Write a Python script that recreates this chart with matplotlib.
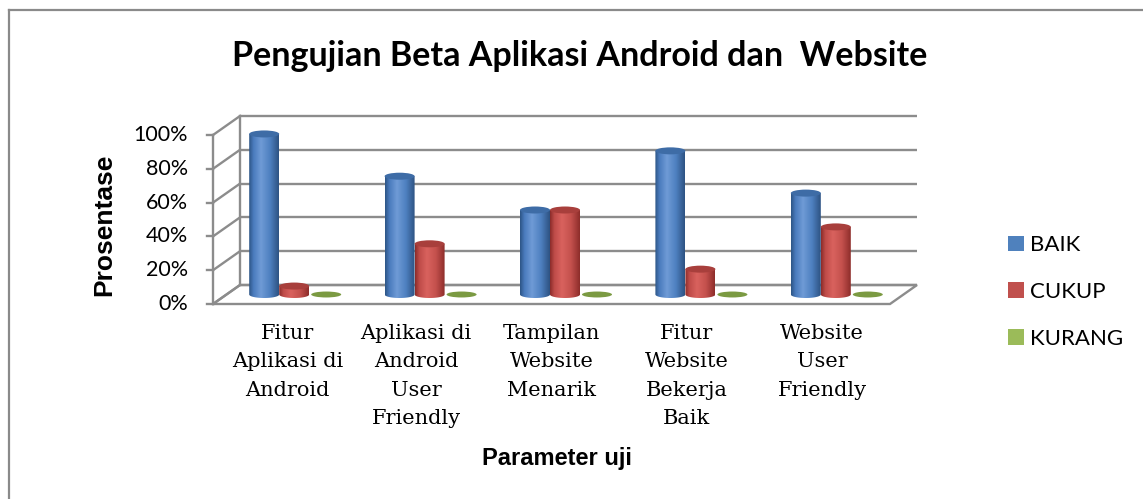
import numpy as np
import matplotlib
matplotlib.use("Agg")
import matplotlib.pyplot as plt
from matplotlib.patches import Polygon, Ellipse, Patch
from matplotlib.lines import Line2D
from matplotlib.colors import LinearSegmentedColormap

# ---------------- data ----------------
categories = ["Fitur\nAplikasi di\nAndroid",
              "Aplikasi di\nAndroid\nUser\nFriendly",
              "Tampilan\nWebsite\nMenarik",
              "Fitur\nWebsite\nBekerja\nBaik",
              "Website\nUser\nFriendly"]
series_names = ["BAIK", "CUKUP", "KURANG"]
baik = [95, 70, 50, 85, 60]
cukup = [5, 30, 50, 15, 40]
kurang = [0, 0, 0, 0, 0]
yticks = [0, 20, 40, 60, 80, 100]
ytick_labels = ["0%", "20%", "40%", "60%", "80%", "100%"]
title = "Pengujian Beta Aplikasi Android dan  Website"
xlabel = "Parameter uji"
ylabel = "Prosentase"

# ---------------- layout ----------------
W, H = 1143, 499
fig = plt.figure(figsize=(W / 100, H / 100), dpi=100)
fig.patch.set_facecolor("white")

X0px, X1px = 213, 890      # front floor edge for x = -0.5 .. 4.5
Y0px, Y100px = 304, 135    # front axis 0% .. 100%
n = len(categories)
pxx = (X1px - X0px) / n
pxy = (Y0px - Y100px) / 100
xlim = (-0.75, n - 0.25)
ylim = (-14, 116)
left = (X0px - (-0.5 - xlim[0]) * pxx) / W
right = (X1px + (xlim[1] - (n - 0.5)) * pxx) / W
bottom = (H - (Y0px + (0 - ylim[0]) * pxy)) / H
top = (H - (Y0px - ylim[1] * pxy)) / H
ax = fig.add_axes([left, bottom, right - left, top - bottom])
ax.axis("off")

dx = 27 / pxx
dy = 19 / pxy
gcol = "#8c8c8c"
glw = 1.7
xa, xb = -0.5, n - 0.5

# floor
ax.add_patch(Polygon([(xa, 0), (xb, 0), (xb + dx, dy), (xa + dx, dy)],
                     closed=True, facecolor="white", edgecolor=gcol, lw=glw, zorder=1))
# back wall gridlines + left wall diagonals + ticks
for v in yticks:
    ax.plot([xa + dx, xb + dx], [v + dy, v + dy], color=gcol, lw=glw, zorder=1,
            solid_capstyle="butt")
    ax.plot([xa, xa + dx], [v, v + dy], color=gcol, lw=glw, zorder=1)
    ax.plot([xa - 6 / pxx, xa], [v, v], color=gcol, lw=glw, zorder=1)
ax.plot([xa + dx, xa + dx], [dy, 100 + dy], color=gcol, lw=glw, zorder=1)
ax.plot([xa, xa], [0, 100], color=gcol, lw=glw, zorder=1)

# tick labels
for v, lab in zip(yticks, ytick_labels):
    ax.text(xa - 25 / pxx, v, lab, ha="right", va="center", fontsize=15.5,
            family="Lato", color="#000000")

# cylinders
bw = 30 / pxx
eh = 7 / pxy
base = dy / 2

blue_cmap = LinearSegmentedColormap.from_list(
    "b", [(0, "#2c5484"), (0.15, "#4a7bbd"), (0.4, "#6f9bd6"), (0.7, "#4e80c0"), (1, "#2d5282")])
red_cmap = LinearSegmentedColormap.from_list(
    "r", [(0, "#8a2b29"), (0.15, "#bf4c49"), (0.4, "#d9625e"), (0.7, "#c4514d"), (1, "#8d2d2a")])
grad = np.linspace(0, 1, 256).reshape(1, -1)


def cylinder(xc, h, cmap, top_color, z):
    x0, x1 = xc - bw / 2, xc + bw / 2
    yt = base + h
    th = np.linspace(np.pi, 2 * np.pi, 50)
    bx = xc + bw / 2 * np.cos(th)
    by = base + eh / 2 * np.sin(th)
    verts = [(x0, yt)] + list(zip(bx, by)) + [(x1, yt)]
    clip = Polygon(verts, closed=True, facecolor="none", edgecolor="none")
    ax.add_patch(clip)
    im = ax.imshow(grad, cmap=cmap, extent=(x0, x1, base - eh / 2, yt),
                   aspect="auto", origin="lower", interpolation="bilinear", zorder=z)
    im.set_clip_path(clip)
    ax.add_patch(Ellipse((xc, yt), bw, eh, facecolor=top_color, edgecolor="none",
                         zorder=z + 0.1))


for i in range(n):
    gc = i + dx / 2
    cylinder(gc - bw, baik[i], blue_cmap, "#3e6ca6", 3 + i)
    cylinder(gc, cukup[i], red_cmap, "#a83f3c", 3.3 + i)
    ax.add_patch(Ellipse((gc + bw + 2 / pxx, base + kurang[i]), bw, eh * 0.85,
                         facecolor="#7b9a42", edgecolor="none", zorder=3.5 + i))
    ax.text(i + (0.05 if i == 0 else 0), -20 / pxy, categories[i], ha="center", va="top",
            fontsize=15, family="DejaVu Serif", linespacing=1.63, color="#000000")

ax.set_xlim(xlim)
ax.set_ylim(ylim)

# titles
fig.text(580 / W, 1 - 56 / H, title, ha="center", va="center", fontsize=24.5,
         fontweight="bold", family="Lato")
fig.text(557 / W, 1 - 458 / H, xlabel, ha="center", va="center", fontsize=17,
         fontweight="bold", family="Liberation Sans")
fig.text(104 / W, 1 - 225 / H, ylabel, ha="center", va="center", fontsize=19,
         fontweight="bold", family="Liberation Sans", rotation=90)

# legend
handles = [Patch(facecolor="#4f81bd"), Patch(facecolor="#c0504d"), Patch(facecolor="#9bbb59")]
fig.legend(handles, series_names, loc="center left", bbox_to_anchor=(988 / W, 1 - 292 / H),
           frameon=False, handlelength=0.7, handleheight=0.7, handletextpad=0.3,
           labelspacing=1.2, prop={"family": "Lato", "size": 16})

# outer border
fig.add_artist(Line2D([9 / W, 1], [1 - 10 / H, 1 - 10 / H], transform=fig.transFigure,
                      color="#8a8a8a", lw=1.6))
fig.add_artist(Line2D([9 / W, 9 / W], [0, 1 - 10 / H], transform=fig.transFigure,
                      color="#8a8a8a", lw=1.6))

fig.savefig("out.png", dpi=100, facecolor="white")
